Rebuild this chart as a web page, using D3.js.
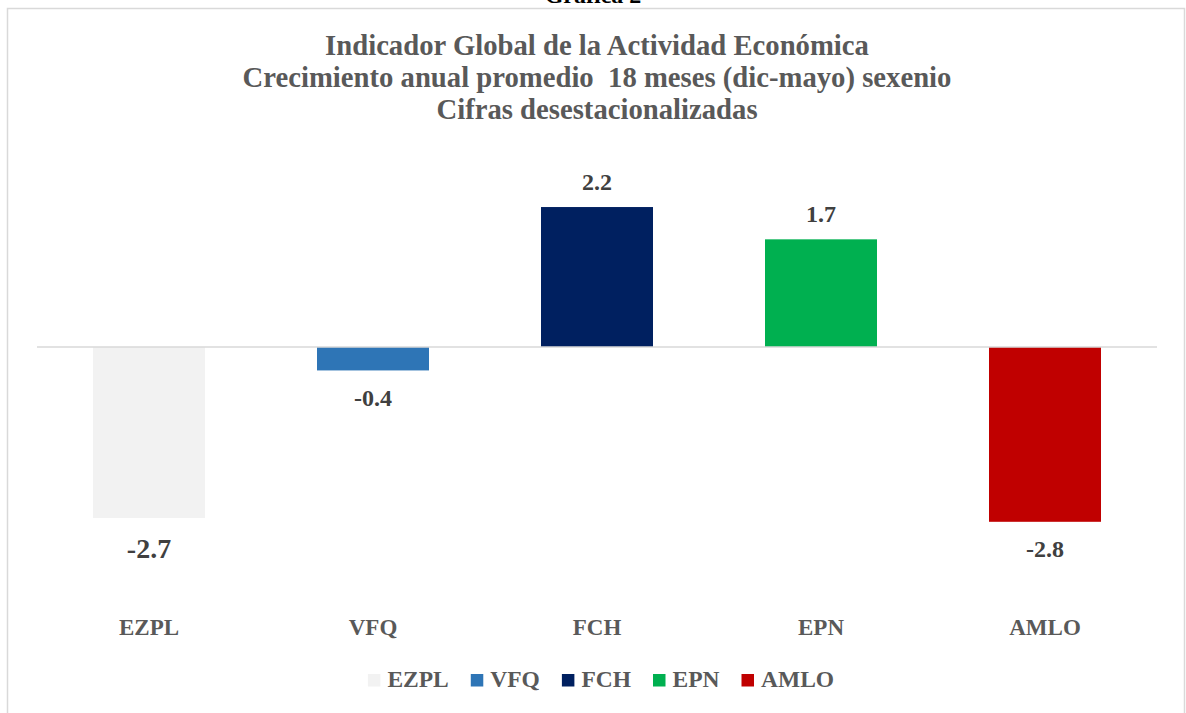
<!DOCTYPE html>
<html>
<head>
<meta charset="utf-8">
<script src="https://cdn.jsdelivr.net/npm/d3@7"></script>
<style>
  html, body { margin: 0; padding: 0; background: #ffffff; overflow: hidden; }
  svg { display: block; }
  text { font-family: "Liberation Serif", "Times New Roman", serif; font-weight: bold; }
</style>
</head>
<body>
<svg id="chart" width="1186" height="713"></svg>
<script>
// ---- data ----
const categories = ["EZPL", "VFQ", "FCH", "EPN", "AMLO"];
const values = [-2.7, -0.37, 2.21, 1.7, -2.76];
const seriesColors = ["#f2f2f2", "#2e75b6", "#002060", "#00b050", "#c00000"];
const titleLines = [
  "Indicador Global de la Actividad Económica",
  "Crecimiento anual promedio  18 meses (dic-mayo) sexenio",
  "Cifras desestacionalizadas"
];
const headerText = "Gráfica 2";
const yDomain = [-3, 3];

// ---- layout ----
const W = 1186, H = 713;
const svg = d3.select("#chart");
const fmt = d3.formatLocale({ decimal: ".", thousands: ",", grouping: [3], currency: ["", ""], minus: "-" }).format(".1f");

// outer frame
svg.append("rect")
  .attr("x", 7.5).attr("y", 8.5)
  .attr("width", 1177).attr("height", 720)
  .attr("fill", "#ffffff")
  .attr("stroke", "#d9d9d9").attr("stroke-width", 1.5);

// cut-off header above the frame (as in the reference)
svg.append("text")
  .attr("x", W / 2).attr("y", 3)
  .attr("text-anchor", "middle")
  .attr("font-size", 24)
  .attr("fill", "#000000")
  .text(headerText);

// title
svg.append("g").selectAll("text")
  .data(titleLines)
  .join("text")
  .attr("x", 597)
  .attr("y", (d, i) => 55 + i * 32)
  .attr("text-anchor", "middle")
  .attr("font-size", 28.7)
  .attr("fill", "#595959")
  .attr("xml:space", "preserve")
  .style("white-space", "pre")
  .text(d => d);

// scales
const x = d3.scaleBand()
  .domain(categories)
  .range([37, 1157])
  .paddingInner(0.5)
  .paddingOuter(0.25);

const y = d3.scaleLinear()
  .domain(yDomain)
  .range([537, 157]);

const color = d3.scaleOrdinal().domain(categories).range(seriesColors);

const rows = categories.map((c, i) => ({ cat: c, v: values[i] }));

// bars
svg.append("g").selectAll("rect")
  .data(rows)
  .join("rect")
  .attr("x", d => x(d.cat))
  .attr("width", x.bandwidth())
  .attr("y", d => y(Math.max(0, d.v)))
  .attr("height", d => Math.abs(y(d.v) - y(0)))
  .attr("fill", d => color(d.cat));

// zero line
svg.append("line")
  .attr("x1", x.range()[0]).attr("x2", x.range()[1])
  .attr("y1", y(0)).attr("y2", y(0))
  .attr("stroke", "#d9d9d9").attr("stroke-width", 1.5);

// value labels
svg.append("g").selectAll("text")
  .data(rows)
  .join("text")
  .attr("x", d => x(d.cat) + x.bandwidth() / 2)
  .attr("text-anchor", "middle")
  .attr("fill", "#404040")
  .attr("font-size", (d, i) => i === 0 ? 28 : 24)
  .attr("y", (d, i) => {
    const fs = i === 0 ? 28 : 24;
    return d.v >= 0 ? y(d.v) - 17.5 : y(d.v) + fs * 1.3 + 4;
  })
  .text(d => fmt(d.v));

// category axis labels
svg.append("g").selectAll("text")
  .data(categories)
  .join("text")
  .attr("x", d => x(d) + x.bandwidth() / 2)
  .attr("y", 635)
  .attr("text-anchor", "middle")
  .attr("font-size", 23)
  .attr("fill", "#595959")
  .text(d => d);

// legend
const legend = svg.append("g");
const items = legend.selectAll("g")
  .data(categories)
  .join("g");
items.append("rect")
  .attr("width", 12.5).attr("height", 12.5)
  .attr("y", 674)
  .attr("fill", d => color(d));
items.append("text")
  .attr("y", 687)
  .attr("font-size", 23.5)
  .attr("fill", "#595959")
  .text(d => d);

const sw = 12.5, gap = 7, spacing = 22;
const widths = [];
items.each(function () { widths.push(this.querySelector("text").getComputedTextLength()); });
const total = d3.sum(widths) + categories.length * (sw + gap) + (categories.length - 1) * spacing;
let cx = 601 - total / 2;
items.each(function (d, i) {
  const g = d3.select(this);
  g.select("rect").attr("x", cx);
  g.select("text").attr("x", cx + sw + gap);
  cx += sw + gap + widths[i] + spacing;
});
</script>
</body>
</html>
